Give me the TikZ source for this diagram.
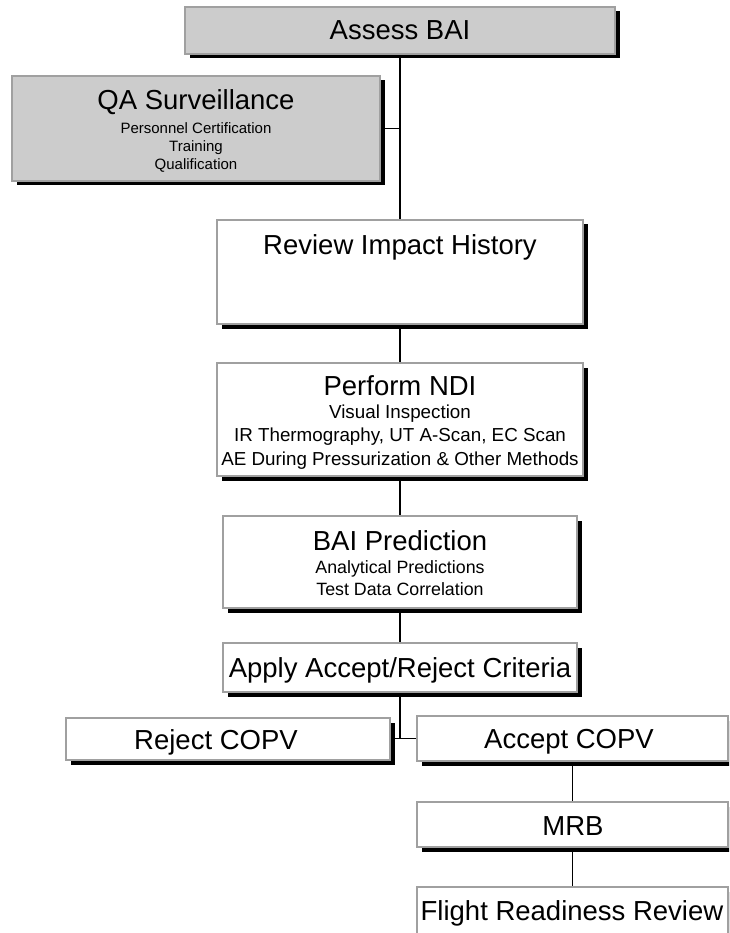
\documentclass[tikz,border=0pt]{standalone}
\usepackage{fontspec}
\setmainfont{Liberation Sans}
\usetikzlibrary{shadows}
\pgfdeclarelayer{background}
\pgfsetlayers{background,main}
\definecolor{boxgray}{HTML}{CCCCCC}
\definecolor{edgegray}{HTML}{A0A0A0}
\tikzset{
  box/.style={draw=edgegray, line width=1.3pt, fill=white, inner sep=0pt,
    drop shadow={shadow xshift=4.5pt, shadow yshift=-4.5pt, fill=black, opacity=1}},
  graybox/.style={box, fill=boxgray},
  ttl/.style={inner sep=0pt, anchor=base, font=\fontsize{27.5}{32}\selectfont},
  subqa/.style={inner sep=0pt, anchor=base, font=\fontsize{15}{18}\selectfont},
  subndi/.style={inner sep=0pt, anchor=base, font=\fontsize{18.8}{22}\selectfont},
  subpred/.style={inner sep=0pt, anchor=base, font=\fontsize{17.8}{21}\selectfont},
  conn/.style={draw=black, line width=1.3pt}
}
\begin{document}
\begin{tikzpicture}[x=1pt,y=-1pt]
\useasboundingbox (0,0) rectangle (729,933);
\clip (0,0) rectangle (729,933);
% boxes
\node[graybox, minimum width=430pt, minimum height=47pt] (assess) at (400,30.5) {};
\node[graybox, minimum width=368pt, minimum height=105pt] (qa) at (196,128.5) {};
\node[box, minimum width=366pt, minimum height=104pt] (review) at (400,272) {};
\node[box, minimum width=366pt, minimum height=113pt] (ndi) at (400,419.5) {};
\node[box, minimum width=354pt, minimum height=92pt] (pred) at (400,562) {};
\node[box, minimum width=354pt, minimum height=49pt] (apply) at (400,667.5) {};
\node[box, minimum width=324pt, minimum height=42pt] (reject) at (228,739) {};
\node[box, minimum width=311pt, minimum height=45pt] (accept) at (572.5,738.5) {};
\node[box, minimum width=311pt, minimum height=45pt] (mrb) at (572.5,824.5) {};
\node[box, minimum width=311pt, minimum height=50pt] (frr) at (572.5,912) {};
% texts (base anchors)
\node[ttl] (tassess) at (400,40) {Assess BAI};
\node[ttl] (tqa) at (196,110) {QA Surveillance};
\node[subqa] (tqa1) at (196,133.5) {Personnel Certification};
\node[subqa] (tqa2) at (196,151.5) {Training};
\node[subqa] (tqa3) at (196,169.5) {Qualification};
\node[ttl] (treview) at (400,254) {Review Impact History};
\node[ttl] (tndi) at (400,395) {Perform NDI};
\node[subndi] (tndi1) at (400,418) {Visual Inspection};
\node[subndi] (tndi2) at (400,441.5) {IR Thermography, UT A-Scan, EC Scan};
\node[subndi] (tndi3) at (400,465) {AE During Pressurization \& Other Methods};
\node[ttl] (tpred) at (400,550) {BAI Prediction};
\node[subpred] (tpred1) at (400,573) {Analytical Predictions};
\node[subpred] (tpred2) at (400,595) {Test Data Correlation};
\node[ttl] (tapply) at (400,677) {Apply Accept/Reject Criteria};
\node[ttl] (treject) at (216,749) {Reject COPV};
\node[ttl] (taccept) at (569,748) {Accept COPV};
\node[ttl] (tmrb) at (573,835) {MRB};
\node[ttl] (tfrr) at (572,920) {Flight Readiness Review};
% connectors
\coordinate (j) at (apply.south |- accept.west);
\begin{pgfonlayer}{background}
\draw[conn] (assess.south) -- (review.north);
\draw[conn] (qa.east) -- (qa.east -| assess.south);
\draw[conn] (review.south) -- (ndi.north);
\draw[conn] (ndi.south) -- (pred.north);
\draw[conn] (pred.south) -- (apply.north);
\draw[conn] (apply.south) -- (j);
\draw[conn] (reject.east |- j) -- (accept.west);
\draw[conn] (accept.south) -- (mrb.north);
\draw[conn] (mrb.south) -- (frr.north);
\end{pgfonlayer}
\end{tikzpicture}
\end{document}
